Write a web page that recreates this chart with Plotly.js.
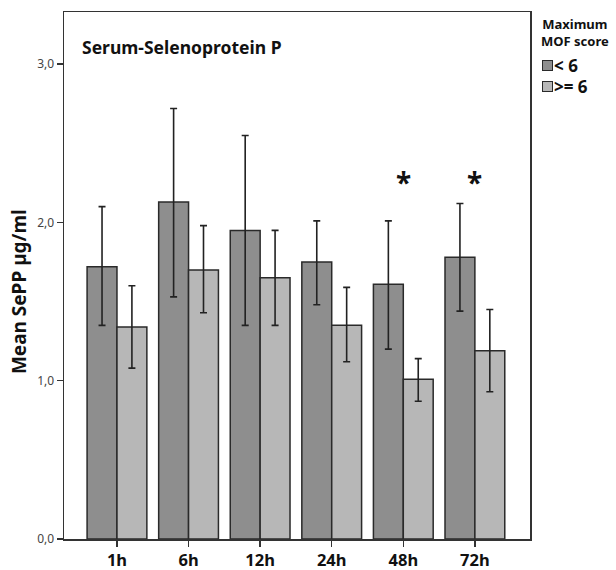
<!DOCTYPE html>
<html>
<head>
<meta charset="utf-8">
<script src="https://cdn.plot.ly/plotly-3.0.1.min.js"></script>
<style>html,body{margin:0;padding:0;background:#fff;}#chart{width:616px;height:570px;}</style>
</head>
<body>
<div id="chart"></div>
<script>
const categories = ["1h", "6h", "12h", "24h", "48h", "72h"];
const seriesNames = ["< 6", ">= 6"];
const meanLow = [1.72, 2.13, 1.95, 1.75, 1.61, 1.78];
const upperLow = [2.10, 2.72, 2.55, 2.01, 2.01, 2.12];
const lowerLow = [1.35, 1.53, 1.35, 1.48, 1.20, 1.44];
const meanHigh = [1.34, 1.70, 1.65, 1.35, 1.01, 1.19];
const upperHigh = [1.60, 1.98, 1.95, 1.59, 1.14, 1.45];
const lowerHigh = [1.08, 1.43, 1.35, 1.12, 0.87, 0.93];
const starCategories = ["48h", "72h"];
const starY = [2.30, 2.30];
const yTicks = [0, 1, 2, 3];
const legendTitle = "Maximum<br>MOF score";

const fontFam = "'Noto Sans', 'Open Sans', 'DejaVu Sans', sans-serif";
const colors = ['#8e8e8e', '#b7b7b7'];

function errArrays(mean, up, lo) {
  return {
    type: 'data', symmetric: false,
    array: mean.map((m, i) => +(up[i] - m).toFixed(3)),
    arrayminus: mean.map((m, i) => +(m - lo[i]).toFixed(3)),
    color: '#222', thickness: 1.6, width: 3.5
  };
}

const traces = [
  {
    type: 'bar', name: seriesNames[0], x: categories, y: meanLow,
    marker: {color: colors[0], line: {color: '#2a2a2a', width: 1.5}},
    error_y: errArrays(meanLow, upperLow, lowerLow)
  },
  {
    type: 'bar', name: seriesNames[1], x: categories, y: meanHigh,
    marker: {color: colors[1], line: {color: '#2a2a2a', width: 1.5}},
    error_y: errArrays(meanHigh, upperHigh, lowerHigh)
  }
];

const annotations = starCategories.map((c, i) => ({
  x: c, y: starY[i], xref: 'x', yref: 'y', text: '*', showarrow: false,
  font: {family: fontFam, size: 28, color: '#111', weight: 'bold'}, yanchor: 'middle', yshift: -7
}));
annotations.push({
  xref: 'paper', yref: 'paper', x: 0.035, y: 0.934, xanchor: 'left', yanchor: 'middle',
  text: '<b>Serum-Selenoprotein P</b>', showarrow: false,
  font: {family: fontFam, size: 17.5, color: '#111'}
});
annotations.push({
  xref: 'paper', yref: 'y', x: 0, y: 1.56, xanchor: 'center', yanchor: 'middle', xshift: -45,
  text: '<b>Mean SePP µg/ml</b>', textangle: -90, showarrow: false,
  font: {family: fontFam, size: 19, color: '#111'}
});
// legend (drawn as annotations)
annotations.push({
  xref: 'paper', yref: 'paper', x: 1, y: 1, xanchor: 'center', yanchor: 'middle', xshift: 45, yshift: -20,
  text: '<b>' + legendTitle + '</b>', showarrow: false, borderpad: 0, align: 'center',
  font: {family: fontFam, size: 13, color: '#111'}
});
seriesNames.forEach((n, i) => {
  const ys = -53 - 21 * i;
  annotations.push({
    xref: 'paper', yref: 'paper', x: 1, y: 1, xanchor: 'center', yanchor: 'middle', xshift: 17, yshift: ys,
    text: ' ', showarrow: false, width: 9, height: 9, bgcolor: colors[i], bordercolor: '#2a2a2a', borderwidth: 1, borderpad: 0,
    font: {size: 6}
  });
  annotations.push({
    xref: 'paper', yref: 'paper', x: 1, y: 1, xanchor: 'left', yanchor: 'middle', xshift: 23, yshift: ys,
    text: '<b>' + n + '</b>', showarrow: false, borderpad: 0,
    font: {family: fontFam, size: 17, color: '#111'}
  });
});

const layout = {
  width: 616, height: 570,
  margin: {l: 64, r: 86, t: 12, b: 31},
  paper_bgcolor: '#fff', plot_bgcolor: '#fff',
  separators: ',.',
  barmode: 'group', bargap: 0.165, bargroupgap: 0,
  showlegend: false,
  xaxis: {
    type: 'category', range: [-0.74, 5.77],
    showline: true, mirror: true, linecolor: '#333', linewidth: 1.5,
    ticks: 'outside', ticklen: 6, tickcolor: '#333', tickwidth: 1.5,
    tickfont: {family: fontFam, size: 16.5, color: '#111', weight: 'bold'},
    showgrid: false, zeroline: false
  },
  yaxis: {
    range: [0, 3.33], tickvals: yTicks, tickformat: '.1f',
    showline: true, mirror: true, linecolor: '#333', linewidth: 1.5,
    ticks: 'outside', ticklen: 6, tickcolor: '#333', tickwidth: 1.5,
    tickfont: {family: fontFam, size: 12, color: '#444'},
    showgrid: false, zeroline: false
  },
  annotations: annotations
};

Plotly.newPlot('chart', traces, layout, {displayModeBar: false, staticPlot: true});
</script>
</body>
</html>
